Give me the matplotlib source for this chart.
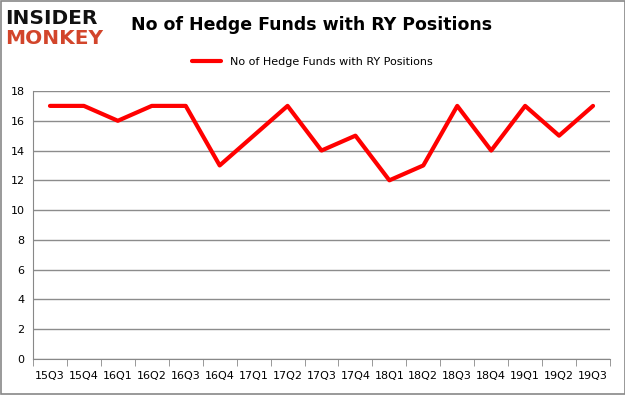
import matplotlib
matplotlib.use("Agg")
import matplotlib.pyplot as plt
from matplotlib.patches import Rectangle

quarters = ["15Q3", "15Q4", "16Q1", "16Q2", "16Q3", "16Q4", "17Q1", "17Q2", "17Q3",
            "17Q4", "18Q1", "18Q2", "18Q3", "18Q4", "19Q1", "19Q2", "19Q3"]
funds = [17, 17, 16, 17, 17, 13, 15, 17, 14, 15, 12, 13, 17, 14, 17, 15, 17]
yticks = [0, 2, 4, 6, 8, 10, 12, 14, 16, 18]
series_name = "No of Hedge Funds with RY Positions"

fig = plt.figure(figsize=(6.25, 3.95), dpi=100)
fig.patch.set_facecolor("white")
fig.patches.append(Rectangle((0.0008, 0.0013), 0.9984, 0.9974, transform=fig.transFigure,
                             fill=False, edgecolor="#888888", linewidth=1.2))

ax = fig.add_axes([33/625, 36/395, 577/625, 268/395])
x = list(range(len(quarters)))
ax.plot(x, funds, color="#ff0000", linewidth=3, label=series_name, solid_capstyle="round")
ax.set_xlim(-0.5, len(quarters) - 0.5)
ax.set_ylim(0, 18)
ax.set_yticks(yticks)
ax.set_yticklabels([str(v) for v in yticks], fontsize=8, family="DejaVu Sans")
ax.set_xticks(x)
ax.set_xticklabels(quarters, fontsize=8, family="DejaVu Sans")
ax.set_xticks([i - 0.5 for i in range(len(quarters) + 1)], minor=True)
ax.tick_params(axis="x", which="major", length=0, pad=9)
ax.tick_params(axis="x", which="minor", length=5, color="#888888")
ax.tick_params(axis="y", length=0, pad=6)
ax.grid(axis="y", color="#8c8c8c", linewidth=1)
ax.set_axisbelow(True)
for s in ["top", "right"]:
    ax.spines[s].set_visible(False)
ax.spines["left"].set_color("#888888")
ax.spines["bottom"].set_color("#888888")

fig.text(312/625, 1 - 25/395, "No of Hedge Funds with RY Positions", ha="center", va="center",
         fontsize=12.5, fontweight="bold", family="DejaVu Sans")
ax.legend(loc="center", frameon=False, fontsize=8, handlelength=2.6)
leg = ax.get_legend()
leg.set_bbox_to_anchor((312/625, 1 - 62/395), transform=fig.transFigure)

fig.text(5/625, 1 - 18/395, "INSIDER", ha="left", va="center", fontsize=14.5,
         fontweight="bold", color="#111111", family="DejaVu Sans")
fig.text(5/625, 1 - 39/395, "MONKEY", ha="left", va="center", fontsize=14.5,
         fontweight="bold", color="#d2452b", family="DejaVu Sans")

fig.savefig("out.png", dpi=100)
